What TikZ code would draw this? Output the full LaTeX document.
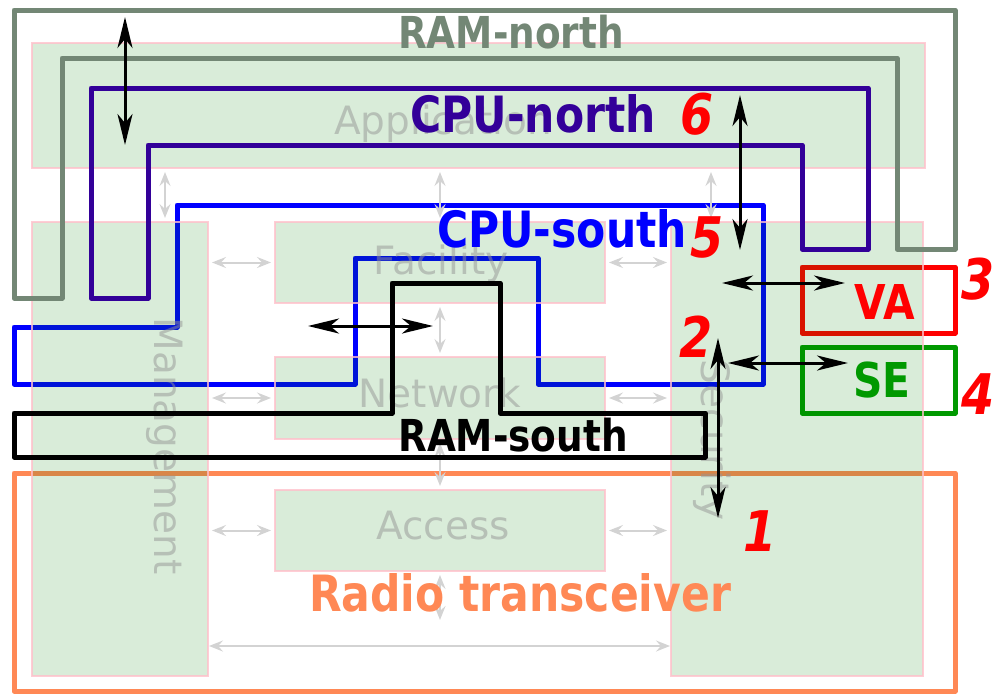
\documentclass[tikz,border=0pt]{standalone}
\usepackage{fontspec}
\setmainfont{DejaVu Sans}
\newfontfamily\condsf{DejaVu Sans}[FakeStretch=0.85]
\usepackage{tikz}
\usetikzlibrary{arrows.meta}
\definecolor{ramnorth}{RGB}{115,135,117}
\definecolor{cpunorth}{RGB}{51,0,153}
\definecolor{cpusouth}{RGB}{0,0,255}
\definecolor{radio}{RGB}{255,136,85}
\definecolor{vared}{RGB}{255,0,0}
\definecolor{segreen}{RGB}{0,153,0}
\definecolor{layerfill}{RGB}{0,128,0}
\definecolor{layerrim}{RGB}{255,192,203}
\definecolor{linkgray}{RGB}{211,211,211}
\tikzset{
  wire/.style={line width=5pt, line join=round},
  layer/.style={draw=layerrim, fill=layerfill, line width=2pt, fill opacity=0.15, draw opacity=0.8, inner sep=0pt},
  lbl/.style={text=black!42, text opacity=0.5, font=\fontsize{39}{39}\selectfont, inner sep=0pt},
  tag/.style={font=\condsf\bfseries\fontsize{#1}{#1}\selectfont, inner sep=0pt},
  num/.style={font=\condsf\bfseries\itshape\fontsize{56}{56}\selectfont, text=vared, inner sep=0pt},
  glink/.style={<->, draw=linkgray, line width=2pt, shorten <=3pt, shorten >=3pt, >={Stealth[length=14pt, width=11pt, inset=5pt]}},
  link/.style={<->, line width=3pt, >={Stealth[length=31pt, width=15pt, inset=9pt]}},
}
\begin{document}
\begin{tikzpicture}[x=1pt, y=-1pt]
  \useasboundingbox (0,0) rectangle (995,694);
  % parts lying under the layers
  \draw[wire, radio] (14,473) rectangle (955,691);
  \draw[wire, vared] (802,267) rectangle (955,333);
  \draw[wire, segreen] (802,347) rectangle (955,413);
  \draw[wire, cpusouth] (14,327) -- (177,327) -- (177,205) -- (763,205) -- (763,384) -- (538,384)
    -- (538,258) -- (355,258) -- (355,384) -- (14,384) -- cycle;
  % layers
  \node[layer, minimum width=893pt, minimum height=125pt] (app)  at (478.5,105.5) {};
  \node[layer, minimum width=176pt, minimum height=454pt] (mgmt) at (120,449) {};
  \node[layer, minimum width=330pt, minimum height=81pt]  (fac)  at (440,262.5) {};
  \node[layer, minimum width=330pt, minimum height=82pt]  (net)  at (440,398) {};
  \node[layer, minimum width=330pt, minimum height=81pt]  (acc)  at (440,530.5) {};
  \node[layer, minimum width=252pt, minimum height=454pt] (sec)  at (797,449) {};
  \node[lbl] (applbl) at (443,124) {Application};
  \node[lbl, rotate=-90] (mgmtlbl) at (165,446) {Management};
  \node[lbl] (faclbl) at (441,264) {Facility};
  \node[lbl] (netlbl) at (440,393) {Network};
  \node[lbl] (acclbl) at (443,526) {Access};
  \node[lbl, rotate=-90] (seclbl) at (712,440) {Security};
  % links between layers
  \coordinate (gx1) at (165,0);
  \coordinate (gx2) at (711,0);
  \coordinate (busy) at (0,646);
  \coordinate (busend) at (0,623);
  \draw[glink] (app.south -| gx1) -- (mgmt.north -| gx1);
  \draw[glink] (app.south -| fac) -- (fac.north);
  \draw[glink] (app.south -| gx2) -- (sec.north -| gx2);
  \draw[glink] (mgmt.east |- fac) -- (fac.west);
  \draw[glink] (fac.east) -- (sec.west |- fac);
  \draw[glink] (fac.south) -- (net.north);
  \draw[glink] (mgmt.east |- net) -- (net.west);
  \draw[glink] (net.east) -- (sec.west |- net);
  \draw[glink] (net.south) -- (acc.north);
  \draw[glink] (mgmt.east |- acc) -- (acc.west);
  \draw[glink] (acc.east) -- (sec.west |- acc);
  \draw[glink] (acc.south) -- (acc.south |- busend);
  \draw[glink, shorten <=0pt, shorten >=0pt] (mgmt.east |- busy) -- (sec.west |- busy);
  % parts lying over the layers
  \draw[wire, ramnorth] (14,10) -- (955,10) -- (955,249) -- (897,249) -- (897,58) -- (62,58)
    -- (62,298) -- (14,298) -- cycle;
  \draw[wire, cpunorth] (91,88) -- (868,88) -- (868,249) -- (802,249) -- (802,145) -- (148,145)
    -- (148,298) -- (91,298) -- cycle;
  \draw[wire] (14,413) -- (392,413) -- (392,283) -- (500,283) -- (500,413) -- (705,413)
    -- (705,457) -- (14,457) -- cycle;
  % interfaces
  \coordinate (ramnA) at (125,17);
  \coordinate (cpunA) at (125,145);
  \coordinate (cpunB) at (740,95);
  \coordinate (cpusB) at (740,250);
  \coordinate (cpusC) at (308,326);
  \coordinate (ramsC) at (433,326);
  \coordinate (cpusD) at (722,283);
  \coordinate (vaD) at (845,283);
  \coordinate (cpusE) at (728,363);
  \coordinate (seE) at (848,363);
  \coordinate (cpusF) at (718,338);
  \coordinate (radioF) at (718,518);
  \draw[link] (ramnA) -- (cpunA);
  \draw[link] (cpunB) -- (cpusB);
  \draw[link] (cpusC) -- (ramsC);
  \draw[link] (cpusD) -- (vaD);
  \draw[link] (cpusE) -- (seE);
  \draw[link] (cpusF) -- (radioF);
  % names
  \node[tag=44, text=ramnorth] (ramnlbl) at (511,32) {RAM-north};
  \node[tag=50, text=cpunorth] (cpunlbl) at (533,114) {CPU-north};
  \node[tag=50, text=cpusouth] (cpuslbl) at (562,229) {CPU-south};
  \node[tag=44] (ramslbl) at (513,435) {RAM-south};
  \node[tag=50, text=radio] (radiolbl) at (520,593) {Radio transceiver};
  \node[tag=48, text=vared] (valbl) at (885,302) {VA};
  \node[tag=48, text=segreen] (selbl) at (882,380) {SE};
  \node[num] (n1) at (760,531) {1};
  \node[num] (n2) at (696,337) {2};
  \node[num] (n3) at (978,279) {3};
  \node[num] (n4) at (978,394) {4};
  \node[num] (n5) at (707,237) {5};
  \node[num] (n6) at (697,114) {6};
\end{tikzpicture}
\end{document}
